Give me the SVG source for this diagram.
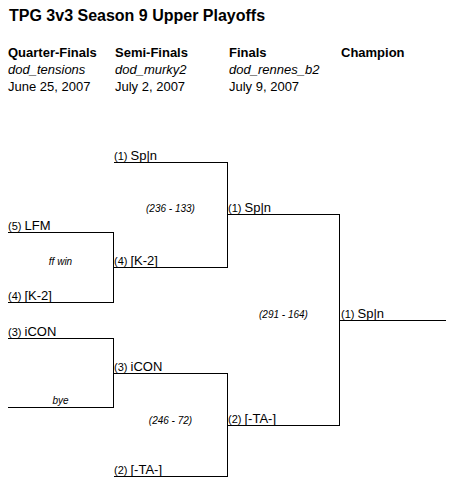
<svg xmlns="http://www.w3.org/2000/svg" width="451" height="482" viewBox="0 0 451 482">
<style>
text{font-family:"Liberation Sans",Arial,sans-serif;fill:#000}
.title{font-size:16px;font-weight:bold}
.hd{font-size:13px;font-weight:bold}
.map{font-size:13px;font-style:italic}
.date{font-size:13px}
.team{font-size:13px}
.seed{font-size:11px}
.score{font-size:10px;font-style:italic;text-anchor:middle}
.ln{stroke:#000;stroke-width:1;fill:none;shape-rendering:crispEdges}
</style>
<rect width="451" height="482" fill="#fff"/>
<g id="header">
<text class="title" x="9" y="21">TPG 3v3 Season 9 Upper Playoffs</text>
<text class="hd" x="8" y="57">Quarter-Finals</text>
<text class="hd" x="115" y="57">Semi-Finals</text>
<text class="hd" x="229" y="57">Finals</text>
<text class="hd" x="341" y="57">Champion</text>
<text class="map" x="8" y="74">dod_tensions</text>
<text class="map" x="115" y="74">dod_murky2</text>
<text class="map" x="229" y="74">dod_rennes_b2</text>
<text class="date" x="8" y="91">June 25, 2007</text>
<text class="date" x="115" y="91">July 2, 2007</text>
<text class="date" x="229" y="91">July 9, 2007</text>
</g>
<g id="connectors" class="ln">
<path class="ln" d="M8 232.5H113.5V302.5H8"/>
<path class="ln" d="M8 338.5H113.5V407.5H8"/>
<path class="ln" d="M114 162.5H227.5V267.5H113.5"/>
<path class="ln" d="M113.5 302V267"/>
<path class="ln" d="M113.5 338V373.5H227.5V476.5H114"/>
<path class="ln" d="M228 214.5H339.5V425.5H227.5"/>
<path class="ln" d="M227.5 214V267"/>
<path class="ln" d="M227.5 373V425"/>
<path class="ln" d="M339 320.5H446"/>
</g>
<g id="qf1-lfm"><text class="team" x="8" y="230"><tspan class="seed">(5) </tspan>LFM</text></g>
<g id="qf1-k2"><text class="team" x="8" y="300"><tspan class="seed">(4) </tspan>[K-2]</text></g>
<g id="qf1-score"><text class="score" x="60.5" y="265">ff win</text></g>
<g id="qf2-icon"><text class="team" x="8" y="336"><tspan class="seed">(3) </tspan>iCON</text></g>
<g id="qf2-bye"><text class="score" x="60.5" y="404">bye</text></g>
<g id="sf1-spin"><text class="team" x="114" y="160"><tspan class="seed">(1) </tspan>Sp|n</text></g>
<g id="sf1-k2"><text class="team" x="114" y="265"><tspan class="seed">(4) </tspan>[K-2]</text></g>
<g id="sf1-score"><text class="score" x="170.5" y="212">(236 - 133)</text></g>
<g id="sf2-icon"><text class="team" x="114" y="371"><tspan class="seed">(3) </tspan>iCON</text></g>
<g id="sf2-ta"><text class="team" x="114" y="474"><tspan class="seed">(2) </tspan>[-TA-]</text></g>
<g id="sf2-score"><text class="score" x="170.5" y="424">(246 - 72)</text></g>
<g id="f-spin"><text class="team" x="228" y="212"><tspan class="seed">(1) </tspan>Sp|n</text></g>
<g id="f-ta"><text class="team" x="228" y="423"><tspan class="seed">(2) </tspan>[-TA-]</text></g>
<g id="f-score"><text class="score" x="283.5" y="318">(291 - 164)</text></g>
<g id="champion"><text class="team" x="341" y="318"><tspan class="seed">(1) </tspan>Sp|n</text></g>
</svg>
